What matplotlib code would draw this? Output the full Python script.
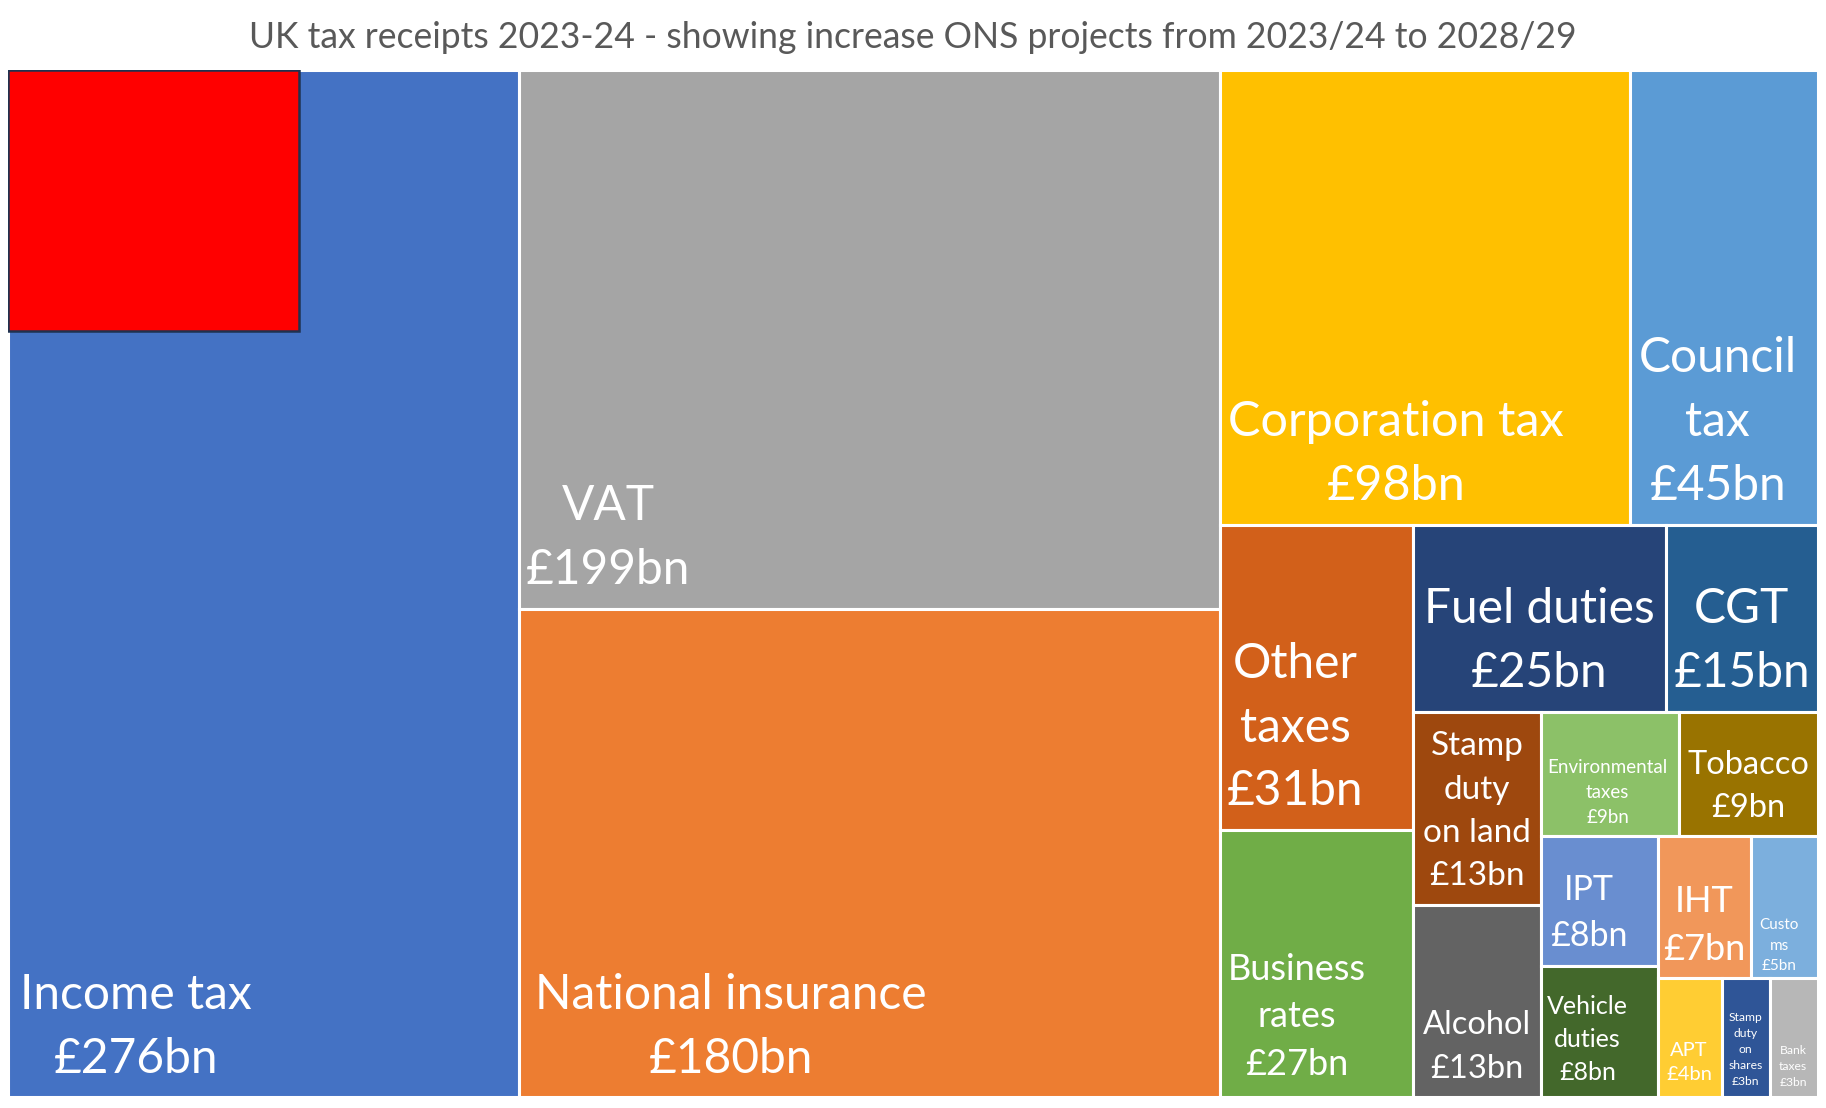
import matplotlib.pyplot as plt
from matplotlib.patches import Rectangle

plt.rcParams['font.family'] = ['Lato', 'DejaVu Sans']

# tax receipts 2023-24, £bn, largest first
taxes = ["Income tax", "VAT", "National insurance", "Corporation tax", "Council tax",
         "Other taxes", "Business rates", "Fuel duties", "CGT", "Stamp duty on land",
         "Alcohol", "Environmental taxes", "Tobacco", "IPT", "Vehicle duties",
         "IHT", "Customs", "APT", "Stamp duty on shares", "Bank taxes"]
receipts_bn = [276, 199, 180, 98, 45, 31, 27, 25, 15, 13, 13, 9, 9, 8, 8, 7, 5, 4, 3, 3]
# how the names wrap inside their tiles
label_text = ["Income tax", "VAT", "National insurance", "Corporation tax", "Council\ntax",
              "Other\ntaxes", "Business\nrates", "Fuel duties", "CGT", "Stamp\nduty\non land",
              "Alcohol", "Environmental\ntaxes", "Tobacco", "IPT", "Vehicle\nduties",
              "IHT", "Custo\nms", "APT", "Stamp\nduty\non\nshares", "Bank\ntaxes"]
# projected increase 2023/24 -> 2028/29, £bn (red square)
increase_bn = 40

colours = ["#4472C4", "#A5A5A5", "#ED7D31", "#FFC000", "#5B9BD5",
           "#D2601A", "#70AD47", "#264478", "#255E91", "#9E480E",
           "#636363", "#8CC168", "#997300", "#698ED0", "#43682B",
           "#F1975A", "#7CAFDD", "#FFCD33", "#2F5597", "#B7B7B7"]

# strips of the squarified layout: (number of tiles, 'v' column / 'h' row)
strips = [(1, 'v'), (2, 'v'), (2, 'h'), (2, 'v'), (2, 'h'),
          (2, 'v'), (2, 'h'), (2, 'v'), (2, 'h'), (3, 'h')]

# label anchor as fraction of tile (x, y from top) and font size
label_pos = [(0.25, 0.932), (0.127, 0.868), (0.302, 0.856), (0.43, 0.845), (0.468, 0.775),
             (0.39, 0.664), (0.40, 0.70), (0.50, 0.62), (0.50, 0.62), (0.50, 0.515),
             (0.50, 0.74), (0.48, 0.65), (0.50, 0.60), (0.41, 0.59), (0.40, 0.56),
             (0.50, 0.63), (0.42, 0.77), (0.49, 0.71), (0.49, 0.60), (0.49, 0.74)]
label_size = [34.5, 34.5, 34.5, 35, 34.5, 34.5, 26, 34.5, 34.5, 24,
              23.5, 13.5, 23.5, 24.5, 18, 26, 11, 14.5, 8.7, 8.7]


def squarify(values, strips, x=0.0, y=0.0, w=1.0, h=1.0):
    rects = []
    i = 0
    remaining = float(sum(values))
    for n, orient in strips:
        grp = values[i:i + n]
        s = sum(grp)
        if orient == 'v':
            sw = w * s / remaining
            yy = y
            for v in grp:
                hh = h * v / s
                rects.append((x, yy, sw, hh))
                yy += hh
            x += sw
            w -= sw
        else:
            sh = h * s / remaining
            xx = x
            for v in grp:
                ww = w * v / s
                rects.append((xx, y, ww, sh))
                xx += ww
            y += sh
            h -= sh
        remaining -= s
        i += n
    return rects


W_PX, H_PX = 1826, 1108
fig = plt.figure(figsize=(W_PX / 100, H_PX / 100), dpi=100)
ax = fig.add_axes([0.0045, 0.010, 0.991, 0.927])
ax.set_xlim(0, 1)
ax.set_ylim(1, 0)
ax.axis('off')

rects = squarify(receipts_bn, strips)
for (x, y, w, h), c, txt, val, (fx, fy), fs in zip(rects, colours, label_text, receipts_bn,
                                                  label_pos, label_size):
    ax.add_patch(Rectangle((x, y), w, h, facecolor=c, edgecolor='white', linewidth=2.2))
    ax.text(x + fx * w, y + fy * h, f"{txt}\n£{val}bn", color='white', fontsize=fs,
            ha='center', va='center', multialignment='center', linespacing=1.55)

# red square: area proportional to projected increase
total = sum(receipts_bn)
frac = increase_bn / total
ax_w_px = 0.991 * W_PX
ax_h_px = 0.927 * H_PX
aspect = 1.115
rw = (frac * aspect * ax_h_px / ax_w_px) ** 0.5
rh = frac / rw
ax.add_patch(Rectangle((0, 0), rw, rh, facecolor='#FF0000', edgecolor='#1F3250',
                       linewidth=1.8, zorder=5))

fig.text(0.5, 0.966, "UK tax receipts 2023-24 - showing increase ONS projects from 2023/24 to 2028/29",
         ha='center', va='center', fontsize=25.6, color='#595959')

fig.savefig("out.png", dpi=100)
